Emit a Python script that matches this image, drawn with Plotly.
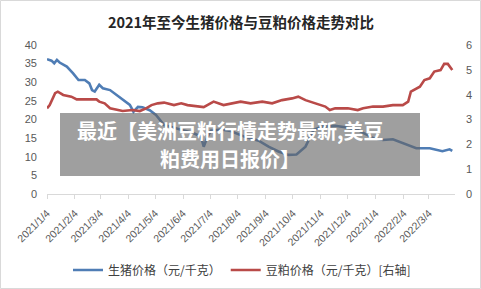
import plotly.graph_objects as go

pig_dates = ["2021-01-04","2021-01-09","2021-01-12","2021-01-15","2021-01-18","2021-01-26","2021-02-02",
             "2021-02-08","2021-02-15","2021-02-20","2021-02-23","2021-02-26","2021-03-03","2021-03-07",
             "2021-03-15","2021-03-22","2021-03-29","2021-04-06","2021-04-10","2021-04-15","2021-04-20",
             "2021-04-28","2021-05-05","2021-05-09","2021-05-14","2021-05-23","2021-06-02","2021-06-16",
             "2021-06-24","2021-06-27","2021-07-01","2021-07-05","2021-07-16","2021-07-27","2021-08-11",
             "2021-08-22","2021-08-27","2021-09-07","2021-09-18","2021-09-29","2021-10-08","2021-10-18",
             "2021-10-23","2021-10-27","2021-11-05","2021-11-20","2021-12-01","2021-12-15","2022-01-01",
             "2022-01-12","2022-01-23","2022-02-03","2022-02-14","2022-02-18","2022-03-05","2022-03-19",
             "2022-03-27","2022-03-30"]
pig_price = [36.2,35.8,35.1,36.0,35.3,34.2,32.4,
             30.6,30.6,29.7,27.9,27.5,29.3,28.4,
             27.9,26.6,25.2,23.9,22.1,23.4,23.3,
             22.5,21.2,19.9,18.5,17.9,17.2,16.3,
             15.4,12.7,15.3,17.0,17.3,16.9,15.4,
             14.5,14.3,12.7,11.4,10.5,10.6,12.7,
             15.0,17.2,18.1,18.3,17.9,17.2,15.0,
             14.5,14.7,13.6,12.5,12.3,12.3,11.5,
             12.0,11.6]

meal_dates = ["2021-01-04","2021-01-07","2021-01-13","2021-01-16","2021-01-22","2021-01-28","2021-01-31",
              "2021-02-06","2021-02-17","2021-02-28","2021-03-03","2021-03-09","2021-03-15","2021-03-22",
              "2021-03-29","2021-04-09","2021-04-17","2021-04-24","2021-04-30","2021-05-07","2021-05-14",
              "2021-05-25","2021-06-02","2021-06-09","2021-06-16","2021-06-27","2021-07-03","2021-07-08",
              "2021-07-19","2021-07-27","2021-08-07","2021-08-18","2021-08-31","2021-09-11","2021-09-22",
              "2021-10-03","2021-10-10","2021-10-18","2021-10-29","2021-11-09","2021-11-14","2021-11-20",
              "2021-12-04","2021-12-15","2021-12-21","2022-01-01","2022-01-12","2022-01-23","2022-02-03",
              "2022-02-09","2022-02-12","2022-02-22","2022-02-27","2022-03-05","2022-03-10","2022-03-17",
              "2022-03-21","2022-03-25","2022-03-30"]
meal_price = [3.45,3.58,4.06,4.12,3.99,3.95,3.92,
              3.81,3.81,3.81,3.72,3.65,3.45,3.38,
              3.34,3.38,3.34,3.45,3.58,3.65,3.68,
              3.58,3.65,3.58,3.54,3.50,3.62,3.72,
              3.58,3.65,3.72,3.65,3.72,3.65,3.78,
              3.85,3.92,3.78,3.65,3.52,3.38,3.45,
              3.45,3.38,3.45,3.52,3.52,3.58,3.58,
              3.72,4.12,4.32,4.59,4.66,4.93,4.99,
              5.24,5.24,4.99]

tick_dates = ["2021-01-04","2021-02-04","2021-03-04","2021-04-04","2021-05-04","2021-06-04","2021-07-04",
              "2021-08-04","2021-09-04","2021-10-04","2021-11-04","2021-12-04","2022-01-04","2022-02-04",
              "2022-03-04"]
tick_text = ["2021/1/4","2021/2/4","2021/3/4","2021/4/4","2021/5/4","2021/6/4","2021/7/4",
             "2021/8/4","2021/9/4","2021/10/4","2021/11/4","2021/12/4","2022/1/4","2022/2/4",
             "2022/3/4"]

title_text = "2021年至今生猪价格与豆粕价格走势对比"
overlay_line1 = "最近【美洲豆粕行情走势最新,美豆"
overlay_line2 = "粕费用日报价】"

FONT = "Liberation Sans, Noto Sans CJK SC, sans-serif"
CJK = "Noto Sans CJK SC, sans-serif"

fig = go.Figure()
fig.add_trace(go.Scatter(x=pig_dates, y=pig_price, mode="lines", name="生猪价格（元/千克）",
                         line=dict(color="#4F7DB5", width=2.6), yaxis="y"))
fig.add_trace(go.Scatter(x=meal_dates, y=meal_price, mode="lines", name="豆粕价格（元/千克）[右轴]",
                         line=dict(color="#B94A48", width=2.6), yaxis="y2"))

W, H = 481, 289
L, R, T, B = 47, 26, 45, 95
pw, ph = W - L - R, H - T - B

def px(x):
    return (x - L) / pw

def py(y):
    return (H - B - y) / ph

fig.update_layout(
    width=W, height=H,
    margin=dict(l=L, r=R, t=T, b=B, autoexpand=False),
    paper_bgcolor="white", plot_bgcolor="white",
    font=dict(family=FONT, size=10, color="#595959"),
    title=dict(text=title_text, x=(241) / W, xanchor="center", y=1 - 23 / H, yanchor="middle",
               font=dict(family=CJK, size=14.5, color="#262626", weight="bold")),
    showlegend=True,
    legend=dict(orientation="h", x=242 / W, xref="container", xanchor="center",
                y=1 - 270 / H, yref="container", yanchor="middle",
                font=dict(family=CJK, size=12, color="#404040"), itemwidth=30, tracegroupgap=0),
    xaxis=dict(type="date", range=["2021-01-04", "2022-04-02"], tickvals=tick_dates, ticktext=tick_text,
               tickangle=-45, showgrid=False, showline=True, linecolor="#d9d9d9", linewidth=1,
               ticks="outside", ticklen=4, tickcolor="#d9d9d9", zeroline=False, ticklabelstandoff=4,
               automargin=False, tickfont=dict(family=FONT, size=10.5, color="#595959")),
    yaxis=dict(range=[0, 40], dtick=5, showgrid=False, showline=False, zeroline=False, ticklabelstandoff=9,
               automargin=False, tickfont=dict(family=FONT, size=11, color="#595959")),
    yaxis2=dict(range=[0, 6], dtick=1, overlaying="y", side="right", showgrid=False, showline=False,
                zeroline=False, ticklabelstandoff=10, automargin=False,
                tickfont=dict(family=FONT, size=11, color="#595959")),
)

fig.add_shape(type="rect", xref="paper", yref="paper", x0=px(60), x1=px(420), y0=py(176), y1=py(113),
              fillcolor="rgba(100,100,100,0.62)", line=dict(width=0), layer="above")
fig.add_shape(type="rect", xref="paper", yref="paper", x0=px(0.5), x1=px(480.5), y0=py(288.5), y1=py(0.5),
              fillcolor="rgba(0,0,0,0)", line=dict(color="#d9d9d9", width=1), layer="above")

fig.add_annotation(text=overlay_line1, xref="paper", yref="paper", x=px(230), y=py(130),
                   xanchor="center", yanchor="middle", showarrow=False,
                   font=dict(family=CJK, size=20, color="white", weight="bold"))
fig.add_annotation(text=overlay_line2, xref="paper", yref="paper", x=px(230), y=py(158),
                   xanchor="center", yanchor="middle", showarrow=False,
                   font=dict(family=CJK, size=20, color="white", weight="bold"))

fig.write_html("out.html")
